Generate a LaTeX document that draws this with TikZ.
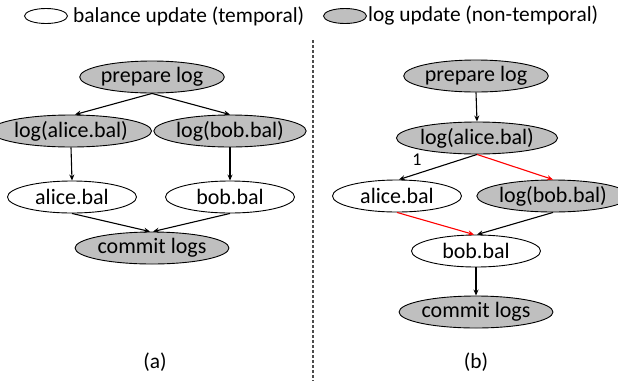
\documentclass[tikz,border=0pt]{standalone}
\usepackage{fontspec}
\setmainfont{Carlito}
\usetikzlibrary{arrows.meta,shapes.geometric}
\definecolor{lgray}{HTML}{BFBFBF}
\tikzset{
  ev/.style={ellipse, draw=black, line width=0.9pt, inner sep=0pt, minimum width=129pt, minimum height=32pt, font=\fontsize{22}{22}\selectfont},
  tev/.style={ev, fill=white},
  lev/.style={ev, fill=lgray},
  legel/.style={ellipse, draw=black, line width=0.9pt, inner sep=0pt, minimum width=43pt, minimum height=15pt},
  txt/.style={inner sep=0pt, font=\fontsize{21.4}{21.4}\selectfont},
  arr/.style={-{Stealth[length=6pt,width=5pt]}, line width=1.1pt, black},
  rarr/.style={arr, red, -{Stealth[length=6pt,width=5pt]}},
}
\begin{document}
\begin{tikzpicture}[x=1pt,y=-1pt]
\useasboundingbox (0,0) rectangle (618,381);
% legend
\node[legel, fill=white] (lw) at (46,16) {};
\node[txt, anchor=west] (lwt) at (73,16) {balance update (temporal)};
\node[legel, fill=lgray] (lg) at (345,16) {};
\node[txt, anchor=west] (lgt) at (368,16) {log update (non-temporal)};
% divider
\coordinate (dtop) at (313,40);
\coordinate (dbot) at (313,381);
\draw[line width=1.2pt, black!70, dash pattern=on 3pt off 2pt] (dtop) -- (dbot);
% panel (a)
\node[lev] (ap) at (152,77) {prepare log};
\node[lev, minimum width=133pt] (ala) at (71,131) {log(alice.bal)};
\node[lev] (alb) at (230,131) {log(bob.bal)};
\node[tev] (aa) at (72,197) {alice.bal};
\node[tev] (ab) at (230,197) {bob.bal};
\node[lev] (ac) at (152,248) {commit logs};
\draw[arr] (ap.south) -- ([xshift=4pt]ala.north);
\draw[arr] (ap.south) -- (alb.north);
\draw[arr] (ala.south) -- (aa.north);
\draw[arr] (alb.south) -- (ab.north);
\draw[arr] (aa.south) -- ([xshift=-2pt]ac.north);
\draw[arr] (ab.south) -- ([xshift=1pt]ac.north);
\node[txt] (la) at (155,362) {(a)};
% panel (b)
\node[lev] (bp) at (476,76) {prepare log};
\node[lev] (bla) at (477,138) {log(alice.bal)};
\node[tev] (ba) at (397,196) {alice.bal};
\node[lev] (blb) at (553,196) {log(bob.bal)};
\node[tev] (bb) at (476,251) {bob.bal};
\node[lev] (bc) at (476,312) {commit logs};
\draw[arr] (bp.south) -- (bla.north);
\draw[arr] (bla.south) -- ([xshift=2pt]ba.north);
\node[txt, font=\fontsize{18}{18}\selectfont] (one) at (417,160) {1};
\draw[rarr] (bla.south) -- (blb.north);
\draw[rarr] (ba.south) -- ([xshift=-2pt]bb.north);
\draw[arr] (blb.south) -- ([xshift=1pt]bb.north);
\draw[arr] (bb.south) -- (bc.north);
\node[txt] (lb) at (476,362) {(b)};
\end{tikzpicture}
\end{document}
